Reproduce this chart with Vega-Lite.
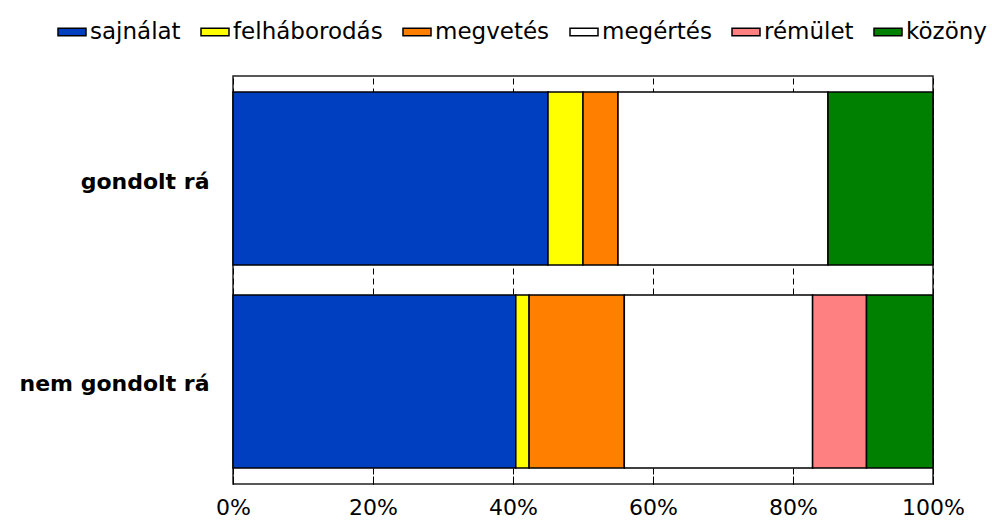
{
  "$schema": "https://vega.github.io/schema/vega-lite/v6.json",
  "width": 700,
  "height": 408,
  "autosize": {"type": "none"},
  "padding": {"left": 233, "top": 76, "right": 59, "bottom": 36},
  "background": "white",
  "config": {"view": {"stroke": "#222", "strokeWidth": 1.5}, "font": "DejaVu Sans"},
  "data": {
    "values": [
      {"group": "gondolt rá", "emotion": "sajnálat", "value": 45},
      {"group": "gondolt rá", "emotion": "felháborodás", "value": 5},
      {"group": "gondolt rá", "emotion": "megvetés", "value": 5},
      {"group": "gondolt rá", "emotion": "megértés", "value": 30},
      {"group": "gondolt rá", "emotion": "közöny", "value": 15},
      {"group": "nem gondolt rá", "emotion": "sajnálat", "value": 40.4},
      {"group": "nem gondolt rá", "emotion": "felháborodás", "value": 1.9},
      {"group": "nem gondolt rá", "emotion": "megvetés", "value": 13.6},
      {"group": "nem gondolt rá", "emotion": "megértés", "value": 26.9},
      {"group": "nem gondolt rá", "emotion": "rémület", "value": 7.7},
      {"group": "nem gondolt rá", "emotion": "közöny", "value": 9.5}
    ]
  },
  "transform": [
    {"calculate": "indexof(['sajnálat','felháborodás','megvetés','megértés','rémület','közöny'], datum.emotion)", "as": "ord"}
  ],
  "mark": {"type": "bar", "stroke": "black", "strokeWidth": 1.5},
  "encoding": {
    "y": {
      "field": "group",
      "type": "nominal",
      "sort": ["gondolt rá", "nem gondolt rá"],
      "scale": {"paddingInner": 0.148, "paddingOuter": 0.079},
      "axis": {
        "title": null,
        "ticks": false,
        "domain": false,
        "labelPadding": 24,
        "labelFontSize": 22,
        "labelFontWeight": "bold",
        "labelColor": "black",
        "labelFont": "DejaVu Sans",
        "labelLimit": 0,
        "labelOffset": 3
      }
    },
    "x": {
      "field": "value",
      "type": "quantitative",
      "stack": "normalize",
      "scale": {"domain": [0, 1], "nice": false},
      "axis": {
        "title": null,
        "values": [0, 0.2, 0.4, 0.6, 0.8, 1],
        "format": ".0%",
        "grid": true,
        "gridDash": [6, 4],
        "gridColor": "black",
        "gridOpacity": 1,
        "domain": false,
        "tickSize": -8,
        "tickColor": "black",
        "labelFontSize": 22,
        "labelColor": "black",
        "labelFont": "DejaVu Sans",
        "labelPadding": 21,
        "labelFlush": false
      }
    },
    "color": {
      "field": "emotion",
      "type": "nominal",
      "scale": {
        "domain": ["sajnálat", "felháborodás", "megvetés", "megértés", "rémület", "közöny"],
        "range": ["#0040C0", "#FFFF00", "#FF8000", "#FFFFFF", "#FF8080", "#008000"]
      },
      "legend": {
        "title": null,
        "orient": "none",
        "legendX": -176,
        "legendY": -59,
        "direction": "horizontal",
        "symbolType": "M-1,-0.27H1V0.27H-1Z",
        "symbolSize": 784,
        "symbolStrokeColor": "black",
        "symbolStrokeWidth": 1.5,
        "symbolOpacity": 1,
        "labelFontSize": 23,
        "labelColor": "black",
        "labelFont": "DejaVu Sans",
        "labelOffset": 3,
        "columnPadding": 17,
        "padding": 0,
        "labelLimit": 0
      }
    },
    "order": {"field": "ord", "type": "quantitative"}
  }
}
